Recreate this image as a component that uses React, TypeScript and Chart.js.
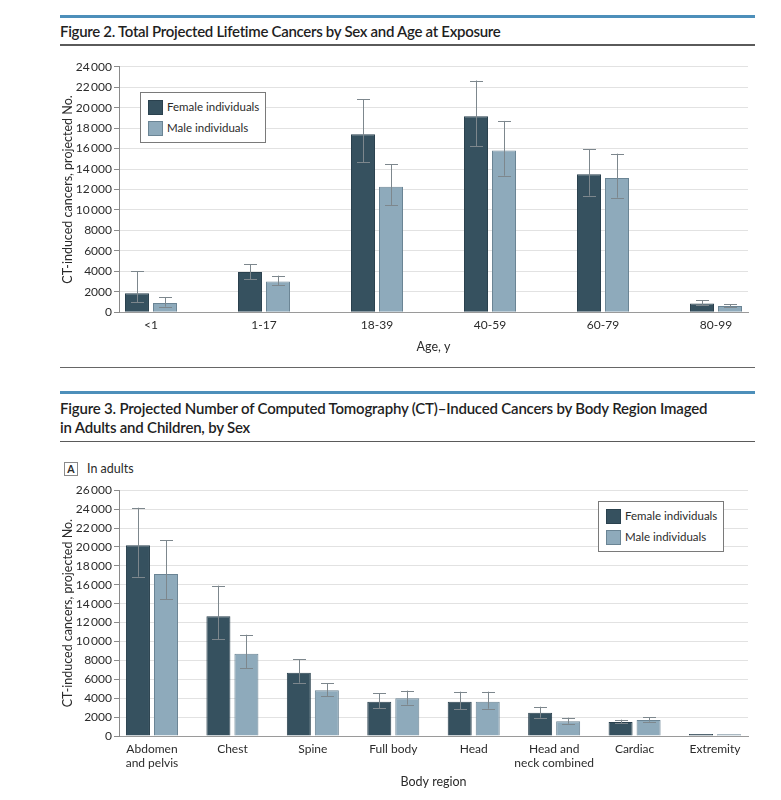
import React, { useEffect, useRef } from "react";
import { Chart, registerables } from "chart.js";

Chart.register(...registerables);

const FONT = "Lato, 'Noto Sans', sans-serif";
const FEMALE_COLOR = "#36515f";
const FEMALE_BORDER = "#2a414e";
const MALE_COLOR = "#8eaabb";
const MALE_BORDER = "#6a8494";
const ERR_COLOR = "#7d878d";
const TEXT_COLOR = "#2b2b2b";

// ---- Figure 2 data ----
const AGE_GROUPS = ["<1", "1-17", "18-39", "40-59", "60-79", "80-99"];
const AGE_FEMALE = [1850, 3950, 17400, 19150, 13500, 850];
const AGE_FEMALE_LOW = [980, 3250, 14650, 16250, 11400, 710];
const AGE_FEMALE_HIGH = [4000, 4720, 20830, 22650, 15950, 1170];
const AGE_MALE = [920, 3000, 12280, 15800, 13130, 620];
const AGE_MALE_LOW = [550, 2640, 10460, 13350, 11200, 490];
const AGE_MALE_HIGH = [1470, 3580, 14470, 18700, 15500, 810];

// ---- Figure 3A data ----
const REGIONS: (string | string[])[] = [
  ["Abdomen", "and pelvis"],
  "Chest",
  "Spine",
  "Full body",
  "Head",
  ["Head and", "neck combined"],
  "Cardiac",
  "Extremity",
];
const REGION_FEMALE = [20180, 12660, 6700, 3630, 3630, 2470, 1480, 200];
const REGION_FEMALE_LOW = [16860, 10230, 5640, 2930, 2820, 1940, 1340, null];
const REGION_FEMALE_HIGH = [24160, 15910, 8110, 4510, 4690, 3100, 1730, null];
const REGION_MALE = [17140, 8710, 4830, 3990, 3630, 1550, 1690, 180];
const REGION_MALE_LOW = [14500, 7200, 4200, 3320, 2890, 1300, 1520, null];
const REGION_MALE_HIGH = [20700, 10720, 5610, 4800, 4690, 1940, 2010, null];

const SERIES_LABELS = ["Female individuals", "Male individuals"];
const Y_TITLE = "CT-induced cancers, projected No.";

function formatTick(v: number) {
  const s = String(v);
  return v >= 10000 ? s.slice(0, s.length - 3) + "\u2009" + s.slice(-3) : s;
}

const errorBarPlugin = {
  id: "errorBars",
  afterDatasetsDraw(chart: any) {
    const { ctx } = chart;
    const yScale = chart.scales.y;
    chart.data.datasets.forEach((ds: any, di: number) => {
      const meta = chart.getDatasetMeta(di);
      meta.data.forEach((bar: any, i: number) => {
        const lo = ds.errLow[i];
        const hi = ds.errHigh[i];
        if (lo == null || hi == null) return;
        const x = Math.round(bar.x) + 0.5;
        const yLo = yScale.getPixelForValue(lo);
        const yHi = yScale.getPixelForValue(hi);
        const cap = 6.5;
        ctx.save();
        ctx.strokeStyle = ERR_COLOR;
        ctx.lineWidth = 1;
        ctx.beginPath();
        ctx.moveTo(x, yHi);
        ctx.lineTo(x, yLo);
        ctx.moveTo(x - cap, Math.round(yHi) + 0.5);
        ctx.lineTo(x + cap, Math.round(yHi) + 0.5);
        ctx.moveTo(x - cap, Math.round(yLo) + 0.5);
        ctx.lineTo(x + cap, Math.round(yLo) + 0.5);
        ctx.stroke();
        ctx.restore();
      });
    });
  },
};

type ChartSpec = {
  categories: (string | string[])[];
  female: number[];
  femaleLow: (number | null)[];
  femaleHigh: (number | null)[];
  male: number[];
  maleLow: (number | null)[];
  maleHigh: (number | null)[];
  yMax: number;
  xPad: number;
  xTitle: string;
  width: number;
  height: number;
  padTop: number;
  xAxisHeight: number;
  categoryPercentage: number;
};

function BarChart({ spec }: { spec: ChartSpec }) {
  const ref = useRef<HTMLCanvasElement | null>(null);
  useEffect(() => {
    if (!ref.current) return;
    const s = spec;
    const n = s.categories.length;
    const chart = new Chart(ref.current, {
      type: "bar",
      data: {
        datasets: [
          {
            label: SERIES_LABELS[0],
            data: s.female.map((v, i) => ({ x: i, y: v })),
            backgroundColor: FEMALE_COLOR,
            borderColor: FEMALE_BORDER,
            borderWidth: 1,
            categoryPercentage: s.categoryPercentage,
            barPercentage: 0.857,
            errLow: s.femaleLow,
            errHigh: s.femaleHigh,
          } as any,
          {
            label: SERIES_LABELS[1],
            data: s.male.map((v, i) => ({ x: i, y: v })),
            backgroundColor: MALE_COLOR,
            borderColor: MALE_BORDER,
            borderWidth: 1,
            categoryPercentage: s.categoryPercentage,
            barPercentage: 0.857,
            errLow: s.maleLow,
            errHigh: s.maleHigh,
          } as any,
        ],
      },
      options: {
        responsive: false,
        animation: false,
        layout: { padding: { top: s.padTop, right: 12, left: 0, bottom: 0 } },
        plugins: {
          legend: { display: false },
          tooltip: { enabled: false },
        },
        scales: {
          x: {
            type: "linear",
            offset: false,
            min: -s.xPad,
            max: n - 1 + s.xPad,
            afterBuildTicks: (scale: any) => {
              scale.ticks = s.categories.map((_, i) => ({ value: i }));
            },
            afterFit: (scale: any) => {
              scale.height = s.xAxisHeight;
            },
            ticks: {
              autoSkip: false,
              maxRotation: 0,
              minRotation: 0,
              padding: 6,
              color: TEXT_COLOR,
              font: { family: FONT, size: 12 },
              callback: (v: any) => s.categories[Math.round(Number(v))] as any,
            },
            grid: { display: false, drawTicks: false, offset: false },
            border: { display: true, color: "#9a9a9a", width: 1 },
            title: {
              display: true,
              text: s.xTitle,
              color: TEXT_COLOR,
              font: { family: FONT, size: 12.5 },
              padding: { top: 0, bottom: 6 },
            },
          } as any,
          y: {
            min: 0,
            max: s.yMax,
            afterFit: (scale: any) => {
              scale.width = 79;
            },
            ticks: {
              stepSize: 2000,
              padding: 2,
              color: TEXT_COLOR,
              font: { family: FONT, size: 12 },
              callback: (v: any) => formatTick(Number(v)),
            },
            grid: {
              color: "#e2e2e2",
              lineWidth: 1,
              drawTicks: true,
              tickLength: 5,
              tickColor: "#8a8a8a",
            },
            border: { display: true, color: "#8a8a8a", width: 1 },
            title: {
              display: true,
              text: Y_TITLE,
              color: TEXT_COLOR,
              font: { family: FONT, size: 12.5 },
              padding: { top: 20.5, bottom: 0 },
            },
          } as any,
        },
      },
      plugins: [errorBarPlugin],
    });
    return () => chart.destroy();
  }, [spec]);
  return (
    <canvas
      ref={ref}
      width={spec.width}
      height={spec.height}
      style={{ width: spec.width, height: spec.height, display: "block" }}
    />
  );
}

const SPEC_AGE: ChartSpec = {
  categories: AGE_GROUPS,
  female: AGE_FEMALE,
  femaleLow: AGE_FEMALE_LOW,
  femaleHigh: AGE_FEMALE_HIGH,
  male: AGE_MALE,
  maleLow: AGE_MALE_LOW,
  maleHigh: AGE_MALE_HIGH,
  yMax: 24000,
  xPad: 0.283,
  xTitle: "Age, y",
  width: 720,
  height: 310,
  padTop: 16.7,
  xAxisHeight: 47.7,
  categoryPercentage: 0.4956,
};

const SPEC_REGION: ChartSpec = {
  categories: REGIONS,
  female: REGION_FEMALE,
  femaleLow: REGION_FEMALE_LOW,
  femaleHigh: REGION_FEMALE_HIGH,
  male: REGION_MALE,
  maleLow: REGION_MALE_LOW,
  maleHigh: REGION_MALE_HIGH,
  yMax: 26000,
  xPad: 0.41,
  xTitle: "Body region",
  width: 720,
  height: 325,
  padTop: 20.3,
  xAxisHeight: 59,
  categoryPercentage: 0.6965,
};

function Legend({ left, top }: { left: number; top: number }) {
  const swatch = (bg: string, border: string, t: number) => ({
    position: "absolute" as const,
    left: 7,
    top: t,
    width: 13,
    height: 13,
    background: bg,
    border: `1px solid ${border}`,
  });
  const label = (t: number) => ({
    position: "absolute" as const,
    left: 26,
    top: t,
    fontSize: 11.5,
    lineHeight: "16px",
    color: TEXT_COLOR,
    whiteSpace: "nowrap" as const,
  });
  return (
    <div
      style={{
        position: "absolute",
        left,
        top,
        width: 124,
        height: 49,
        background: "#fff",
        border: "1px solid #7a7a7a",
      }}
    >
      <div style={swatch(FEMALE_COLOR, FEMALE_BORDER, 7)} />
      <div style={label(6)}>{SERIES_LABELS[0]}</div>
      <div style={swatch(MALE_COLOR, MALE_BORDER, 28)} />
      <div style={label(27)}>{SERIES_LABELS[1]}</div>
    </div>
  );
}

const rule = (top: number, height: number, color: string) => (
  <div
    style={{
      position: "absolute",
      left: 60,
      top,
      width: 695,
      height,
      background: color,
    }}
  />
);

export default function App() {
  return (
    <div
      style={{
        position: "absolute",
        left: 0,
        top: 0,
        width: 781,
        height: 800,
        background: "#fff",
        fontFamily: FONT,
        color: TEXT_COLOR,
        overflow: "hidden",
      }}
    >
      {rule(14.5, 3, "#4d8fba")}
      <div
        style={{
          position: "absolute",
          left: 60,
          top: 22,
          fontSize: 15,
          fontWeight: 600,
          lineHeight: "18px",
          letterSpacing: "-0.3px",
          whiteSpace: "nowrap",
          color: "#1f1f1f",
        }}
      >
        Figure 2. Total Projected Lifetime Cancers by Sex and Age at Exposure
      </div>
      {rule(44, 1.5, "#5a5a5a")}

      <div style={{ position: "absolute", left: 40, top: 50 }}>
        <BarChart spec={SPEC_AGE} />
      </div>
      <Legend left={140} top={92} />
      {rule(366.5, 1.5, "#666")}

      {rule(391, 3, "#4d8fba")}
      <div
        style={{
          position: "absolute",
          left: 60,
          top: 399,
          fontSize: 15,
          fontWeight: 600,
          lineHeight: "18.5px",
          letterSpacing: "-0.2px",
          whiteSpace: "nowrap",
          color: "#1f1f1f",
        }}
      >
        Figure 3. Projected Number of Computed Tomography (CT)–Induced Cancers by Body Region Imaged
        <br />
        in Adults and Children, by Sex
      </div>
      {rule(440.5, 1.5, "#5a5a5a")}

      <div
        style={{
          position: "absolute",
          left: 64,
          top: 462,
          width: 12,
          height: 12,
          border: "1px solid #8a8a8a",
          fontSize: 10.5,
          fontWeight: 700,
          lineHeight: "12px",
          textAlign: "center",
        }}
      >
        A
      </div>
      <div
        style={{
          position: "absolute",
          left: 87,
          top: 461,
          fontSize: 12.5,
          lineHeight: "16px",
        }}
      >
        In adults
      </div>

      <div style={{ position: "absolute", left: 40, top: 470 }}>
        <BarChart spec={SPEC_REGION} />
      </div>
      <Legend left={598} top={501} />
    </div>
  );
}
